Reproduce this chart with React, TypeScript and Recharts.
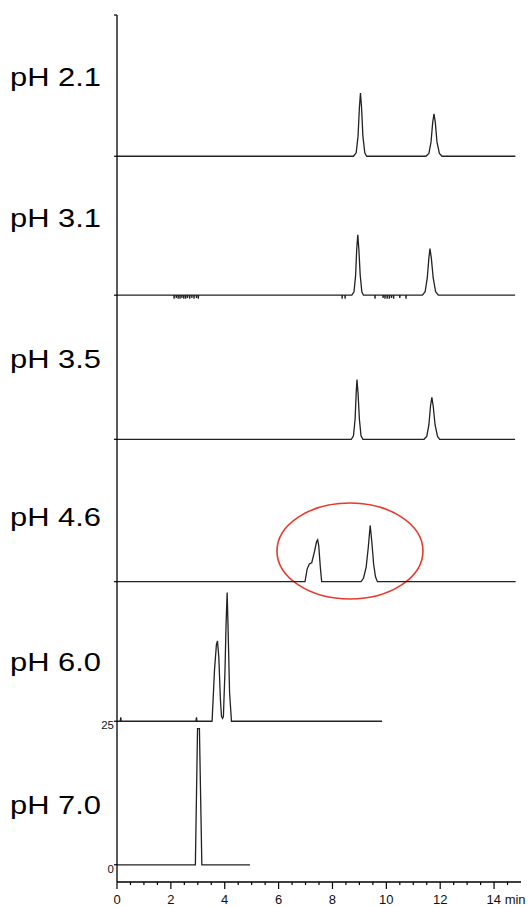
import { LineChart, Line, XAxis, YAxis, ReferenceArea } from 'recharts'

// retention time (min) / detector signal
const ph70Time = [0, 2.91, 2.99, 3.06, 3.15, 4.94]
const ph70Signal = [0, 0, 23.7, 23.7, 0, 0]

const ph60Time = [0, 0.12, 0.14, 0.16, 2.93, 2.95, 2.97, 3.53, 3.62, 3.69, 3.73, 3.78, 3.84, 3.88, 3.92, 3.95, 4.01, 4.05, 4.09, 4.12, 4.18, 4.25, 9.84]
const ph60Signal = [0, 0, 0.7, 0, 0, 0.7, 0, 0, 8.9, 13.3, 14.0, 11.2, 3.7, 0.8, 0.5, 0.8, 8.9, 17.0, 22.4, 17.0, 5.0, 0, 0]

const ph46Time = [0, 6.98, 7.06, 7.14, 7.23, 7.33, 7.41, 7.45, 7.49, 7.55, 7.6, 9.06, 9.15, 9.25, 9.33, 9.4, 9.46, 9.53, 9.6, 9.67, 14.8]
const ph46Signal = [0, 0, 2.2, 3.1, 3.3, 5.2, 7.0, 7.3, 6.3, 2.5, 0, 0, 0.6, 2.5, 6.0, 9.8, 7.0, 3.0, 0.8, 0, 0]

const ph35Time = [0, 8.7, 8.78, 8.84, 8.88, 8.91, 8.95, 9.0, 9.06, 9.13, 11.4, 11.5, 11.58, 11.64, 11.69, 11.74, 11.81, 11.9, 11.98, 14.78]
const ph35Signal = [0, 0, 0.6, 3.5, 8.0, 10.4, 8.0, 3.5, 0.6, 0, 0, 0.5, 2.5, 5.8, 7.3, 5.8, 2.5, 0.5, 0, 0]

const ph31Time = [0, 8.72, 8.8, 8.86, 8.9, 8.94, 8.98, 9.03, 9.09, 9.15, 11.34, 11.44, 11.52, 11.58, 11.62, 11.67, 11.74, 11.83, 11.93, 14.78]
const ph31Signal = [0, 0, 0.6, 3.5, 8.0, 10.5, 8.0, 3.5, 0.6, 0, 0, 0.6, 3.0, 6.5, 8.1, 6.5, 3.0, 0.6, 0, 0]
// baseline noise spikes on the pH 3.1 run
const ph31NoiseTime = [2.12, 2.2, 2.27, 2.34, 2.41, 2.48, 2.55, 2.62, 2.7, 2.78, 2.86, 2.95, 3.02, 8.36, 8.47, 9.58, 9.88, 9.95, 10.03, 10.11, 10.19, 10.27, 10.5, 10.73]
const ph31NoiseDepth = [0.6, 0.5, 0.6, 0.6, 0.5, 0.6, 0.6, 0.5, 0.6, 0.5, 0.6, 0.5, 0.6, 0.6, 0.6, 0.6, 0.5, 0.6, 0.6, 0.6, 0.5, 0.6, 0.5, 0.6]

const ph21Time = [0, 8.78, 8.88, 8.95, 9.0, 9.04, 9.08, 9.13, 9.2, 9.27, 11.47, 11.58, 11.66, 11.72, 11.77, 11.82, 11.88, 11.97, 12.07, 14.79]
const ph21Signal = [0, 0, 0.6, 3.5, 8.5, 11.0, 8.5, 3.5, 0.6, 0, 0, 0.5, 2.5, 5.8, 7.4, 5.8, 2.5, 0.5, 0, 0]

// stacked baselines (bottom to top) and their labels
const offsets = [0, 25, 49.3, 74.1, 99.2, 123.4]
const labels = ['pH 7.0', 'pH 6.0', 'pH 4.6', 'pH 3.5', 'pH 3.1', 'pH 2.1']
const labelLevel = [8.8, 33.7, 59.0, 86.5, 111.1, 135.6]

const yTickValues = [0, 25, 49.3, 74.1, 99.2, 123.4, 148]
const yTickText = ['0', '25', '', '', '', '', '']

const xTicks = [0, 0.5, 1, 1.5, 2, 2.5, 3, 3.5, 4, 4.5, 5, 5.5, 6, 6.5, 7, 7.5, 8, 8.5, 9, 9.5, 10, 10.5, 11, 11.5, 12, 12.5, 13, 13.5, 14, 14.5]
const xMajor = [0, 2, 4, 6, 8, 10, 12, 14]

// highlighted region around the pH 4.6 peaks
const circleX = [5.94, 11.36]
const circleY = [46.3, 63.0]

const FONT = '"Liberation Sans", Arial, sans-serif'

function toPoints(time: number[], signal: number[], offset: number) {
  return time.map((t, i) => ({ t, v: signal[i] + offset }))
}

function withNoise(pts: { t: number; v: number }[], nt: number[], nd: number[], offset: number) {
  const extra: { t: number; v: number }[] = []
  nt.forEach((t, i) => {
    extra.push({ t: t - 0.008, v: offset }, { t, v: offset - nd[i] }, { t: t + 0.008, v: offset })
  })
  return [...pts, ...extra].sort((a, b) => a.t - b.t)
}

const traces = [
  toPoints(ph70Time, ph70Signal, offsets[0]),
  toPoints(ph60Time, ph60Signal, offsets[1]),
  toPoints(ph46Time, ph46Signal, offsets[2]),
  toPoints(ph35Time, ph35Signal, offsets[3]),
  withNoise(toPoints(ph31Time, ph31Signal, offsets[4]), ph31NoiseTime, ph31NoiseDepth, offsets[4]),
  toPoints(ph21Time, ph21Signal, offsets[5]),
]

const XTick = (props: any) => {
  const { x, y, payload } = props
  const v = payload.value
  const major = xMajor.includes(v)
  return (
    <g>
      <line x1={x} x2={x} y1={y} y2={y + (major ? 7 : 3)} stroke="#000" strokeWidth={1.2} />
      {major && (
        <text
          x={v === 14 ? x - 7.5 : x}
          y={y + 22}
          textAnchor={v === 14 ? 'start' : 'middle'}
          fontSize={13}
          fontFamily={FONT}
          fill="#111"
        >
          {v === 14 ? '14 min' : v}
        </text>
      )}
    </g>
  )
}

const YTick = (props: any) => {
  const { x, y, payload } = props
  const v = payload.value
  const li = labelLevel.findIndex(l => Math.abs(l - v) < 1e-6)
  if (li >= 0) {
    return (
      <text x={x - 107} y={y} fontSize={25.5} fontFamily={FONT} fill="#000" textLength={91} lengthAdjust="spacingAndGlyphs">
        {labels[li]}
      </text>
    )
  }
  const ti = yTickValues.findIndex(t => Math.abs(t - v) < 1e-6)
  return (
    <g>
      <line x1={x - 3} x2={x} y1={y} y2={y} stroke="#000" strokeWidth={1.2} />
      {yTickText[ti] && (
        <text x={x - 3} y={y + 8} textAnchor="end" fontSize={11.5} fontFamily={FONT} fill="#111">
          {yTickText[ti]}
        </text>
      )}
    </g>
  )
}

export default function App() {
  return (
    <div style={{ position: 'fixed', left: 0, top: 0, width: 528, height: 907, background: '#fff' }}>
      <LineChart width={528} height={907} margin={{ top: 15, right: 7, bottom: 0, left: 0 }}>
        <XAxis
          type="number"
          dataKey="t"
          domain={[0, 15]}
          ticks={xTicks}
          interval={0}
          allowDataOverflow
          height={25}
          tickSize={0}
          tickMargin={0}
          tick={<XTick />}
          axisLine={{ stroke: '#000', strokeWidth: 1.3 }}
        />
        <YAxis
          type="number"
          domain={[-3, 148]}
          ticks={[...yTickValues, ...labelLevel]}
          interval={0}
          allowDataOverflow
          width={117}
          tickSize={0}
          tickMargin={0}
          tick={<YTick />}
          axisLine={{ stroke: '#000', strokeWidth: 1.3 }}
        />
        {traces.map((d, i) => (
          <Line
            key={labels[i]}
            data={d}
            dataKey="v"
            type="linear"
            stroke="#222"
            strokeWidth={1.3}
            dot={false}
            isAnimationActive={false}
          />
        ))}
        <ReferenceArea
          x1={circleX[0]}
          x2={circleX[1]}
          y1={circleY[0]}
          y2={circleY[1]}
          ifOverflow="visible"
          shape={(p: any) => (
            <ellipse
              cx={p.x + p.width / 2}
              cy={p.y + p.height / 2}
              rx={Math.abs(p.width) / 2}
              ry={Math.abs(p.height) / 2}
              fill="none"
              stroke="#e8392c"
              strokeWidth={1.6}
            />
          )}
        />
      </LineChart>
    </div>
  )
}
